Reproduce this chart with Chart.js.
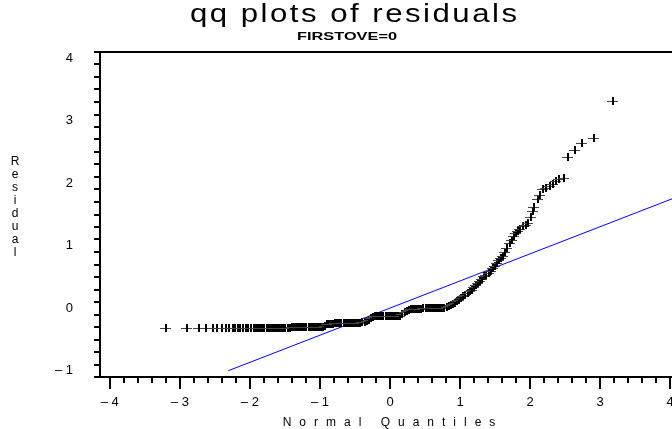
<!DOCTYPE html>
<html>
<head>
<meta charset="utf-8">
<title>qq plots of residuals</title>
<script src="https://cdn.jsdelivr.net/npm/chart.js@4"></script>
<style>
  html, body { margin: 0; padding: 0; background: #fff; overflow: hidden; }
  #wrap { width: 672px; height: 429px; overflow: hidden; }
</style>
</head>
<body>
<div id="wrap"><canvas id="qqChart" width="700" height="429"></canvas></div>
<script>
// Normal quantiles (x) and residuals (y)
const quantiles = [
  -3.20, -2.91, -2.73, -2.64, -2.54, -2.47, -2.41, -2.35, -2.30, -2.25, -2.22, -2.18, -2.15, -2.11,
  -2.07, -2.03, -1.99, -1.955, -1.92, -1.89,
  -1.86, -1.83, -1.80, -1.77, -1.74, -1.71, -1.68, -1.65, -1.62, -1.59, -1.56, -1.53, -1.50, -1.47,
  -1.44,
  -1.41, -1.38, -1.35, -1.32, -1.29, -1.26, -1.23, -1.20, -1.17, -1.14, -1.11, -1.08, -1.05, -1.02,
  -0.99, -0.96,
  -0.94, -0.91, -0.88, -0.85, -0.82, -0.79, -0.76, -0.73, -0.70, -0.67, -0.64, -0.61, -0.58, -0.55,
  -0.52, -0.49, -0.46, -0.43, -0.40, -0.37, -0.34,
  -0.31, -0.28, -0.25, -0.22, -0.19, -0.16, -0.13, -0.10, -0.07, -0.04, -0.01, 0.02, 0.05, 0.08,
  0.11, 0.14,
  0.17, 0.20, 0.23, 0.26, 0.29, 0.32, 0.35, 0.38, 0.41, 0.44, 0.47, 0.50, 0.53, 0.56, 0.59, 0.62,
  0.65, 0.68, 0.71,
  0.74, 0.77, 0.80, 0.83, 0.86, 0.89, 0.92, 0.95, 0.98, 1.01, 1.04, 1.07, 1.10, 1.13, 1.16, 1.19,
  1.22, 1.25, 1.28, 1.31, 1.34, 1.37, 1.40, 1.43, 1.46, 1.49, 1.52, 1.55, 1.58, 1.61, 1.64, 1.67,
  1.70, 1.73, 1.76, 1.79, 1.82, 1.85, 1.89, 1.93, 1.96, 2.00, 2.03, 2.05, 2.10, 2.14, 2.17, 2.22,
  2.27, 2.32, 2.36, 2.41, 2.47, 2.54, 2.63, 2.74, 2.90, 3.18
];
const residuals = [
  -0.32, -0.32, -0.32, -0.32, -0.32, -0.32, -0.32, -0.32, -0.32, -0.32, -0.32, -0.32, -0.32, -0.32,
  -0.32, -0.32, -0.32, -0.32, -0.32, -0.32,
  -0.31, -0.31, -0.31, -0.31, -0.31, -0.31, -0.31, -0.31, -0.31, -0.31, -0.31, -0.31, -0.31, -0.31,
  -0.31,
  -0.30, -0.30, -0.30, -0.30, -0.30, -0.30, -0.30, -0.30, -0.30, -0.30, -0.30, -0.30, -0.30, -0.30,
  -0.30, -0.30,
  -0.28, -0.25, -0.25, -0.25, -0.25, -0.24, -0.24, -0.24, -0.24, -0.24, -0.24, -0.24, -0.24, -0.24,
  -0.23, -0.23, -0.23, -0.23, -0.22, -0.22, -0.21,
  -0.19, -0.16, -0.14, -0.13, -0.13, -0.13, -0.13, -0.13, -0.13, -0.12, -0.12, -0.12, -0.12, -0.12,
  -0.12, -0.12,
  -0.09, -0.06, -0.04, -0.02, -0.01, -0.01, -0.01, -0.01, -0.01, -0.01, 0.00, 0.00, 0.00, 0.00,
  0.00, 0.00, 0.00, 0.00, 0.00,
  0.005, 0.01, 0.02, 0.03, 0.05, 0.07, 0.09, 0.11, 0.14, 0.16, 0.19, 0.21, 0.24, 0.27, 0.30, 0.34,
  0.37, 0.40, 0.44, 0.47, 0.51, 0.54, 0.57, 0.60, 0.64, 0.68, 0.73, 0.77, 0.80, 0.84, 0.90, 0.97,
  1.04, 1.10, 1.16, 1.20, 1.24, 1.27, 1.32, 1.34, 1.36, 1.46, 1.55, 1.62, 1.75, 1.82, 1.91, 1.93,
  1.96, 1.99, 2.03, 2.07, 2.09, 2.42, 2.54, 2.64, 2.73, 3.31
];

// Reference line (blue)
const fitQuantiles = [-2.31, 4.14];
const fitResiduals = [-1.00, 1.80];

// Labelled ticks
const xTickValues = [-4, -3, -2, -1, 0, 1, 2, 3, 4];
const yTickValues = [-1, 0, 1, 2, 3, 4];

const titleText = 'qq plots of residuals';
const subtitleText = 'FIRSTOVE=0';
const xTitle = 'Normal Quantiles';
const yTitle = 'Residual';

const FONT = '"Liberation Sans", Arial, sans-serif';

// "+" marker, wider than tall
function makeCross() {
    const c = document.createElement('canvas');
    c.width = 11;
    c.height = 8;
    const g = c.getContext('2d');
    g.fillStyle = '#444';
    g.fillRect(0, 4, 11, 1);
    g.fillStyle = '#000';
    g.fillRect(5, 0, 2, 8);
    return c;
}

function isMajor(v, list) {
    return list.some(t => Math.abs(t - v) < 1e-6);
}

function tickLabel(v) {
    const r = Math.round(v);
    if (r < 0) return '\u2013 ' + Math.abs(r);
    return String(r);
}

// Frame, tick marks and y tick labels
const framePlugin = {
    id: 'frame',
    beforeDatasetsDraw(chart) {
        const { ctx, chartArea: a, scales } = chart;
        ctx.save();
        ctx.strokeStyle = '#000';
        ctx.lineWidth = 2;
        ctx.strokeRect(a.left, a.top, a.right - a.left, a.bottom - a.top);
        ctx.beginPath();
        scales.y.ticks.forEach(t => {
            const y = Math.round(scales.y.getPixelForValue(t.value));
            const len = isMajor(t.value, yTickValues) ? 13 : 6;
            ctx.moveTo(a.left - len, y);
            ctx.lineTo(a.left, y);
        });
        scales.x.ticks.forEach(t => {
            const x = Math.round(scales.x.getPixelForValue(t.value));
            const len = isMajor(t.value, xTickValues) ? 11 : 5;
            ctx.moveTo(x, a.bottom + 1);
            ctx.lineTo(x, a.bottom + 1 + len);
        });
        ctx.stroke();

        ctx.fillStyle = '#000';
        ctx.font = '13px ' + FONT;
        ctx.textAlign = 'right';
        ctx.textBaseline = 'middle';
        yTickValues.forEach(v => {
            ctx.fillText(tickLabel(v), 73, scales.y.getPixelForValue(v));
        });
        ctx.restore();
        // crisp markers
        ctx.imageSmoothingEnabled = false;
    }
};

// Titles
const textPlugin = {
    id: 'texts',
    afterDraw(chart) {
        const ctx = chart.ctx;
        ctx.save();
        ctx.fillStyle = '#000';

        // main title: wide glyphs, a little spacing
        ctx.font = '25px ' + FONT;
        ctx.textBaseline = 'alphabetic';
        ctx.textAlign = 'left';
        ctx.letterSpacing = '2px';
        let w = ctx.measureText(titleText).width - 2;
        ctx.save();
        ctx.translate(190, 22);
        ctx.scale(327 / w, 1);
        ctx.fillText(titleText, 0, 0);
        ctx.restore();
        ctx.letterSpacing = '0px';

        // subtitle
        ctx.font = 'bold 11px ' + FONT;
        w = ctx.measureText(subtitleText).width;
        ctx.save();
        ctx.translate(297, 40);
        ctx.scale(100 / w, 1);
        ctx.fillText(subtitleText, 0, 0);
        ctx.restore();

        // y axis title, letters stacked
        ctx.font = '12px ' + FONT;
        ctx.textAlign = 'center';
        ctx.textBaseline = 'middle';
        yTitle.split('').forEach((ch, i) => {
            ctx.fillText(ch, 15, 162 + i * 13);
        });

        // x axis title, spaced out
        ctx.textBaseline = 'alphabetic';
        ctx.letterSpacing = '8px';
        ctx.textAlign = 'left';
        w = ctx.measureText(xTitle).width;
        ctx.fillText(xTitle, 389 - (w - 8) / 2, 426);
        ctx.letterSpacing = '0px';
        ctx.restore();
    }
};

function initializeChart() {
    const ctx = document.getElementById('qqChart').getContext('2d');
    const cross = makeCross();

    new Chart(ctx, {
        type: 'scatter',
        data: {
            datasets: [{
                label: 'Residual',
                data: quantiles.map((q, i) => ({ x: q, y: residuals[i] })),
                pointStyle: cross,
                pointRadius: 5,
                borderColor: '#000',
                backgroundColor: '#000'
            }, {
                type: 'line',
                label: 'Fit',
                data: fitQuantiles.map((q, i) => ({ x: q, y: fitResiduals[i] })),
                borderColor: '#0000ff',
                borderWidth: 1,
                pointRadius: 0,
                fill: false
            }]
        },
        options: {
            responsive: false,
            animation: false,
            events: [],
            layout: { padding: { top: 52, right: 20, left: 0, bottom: 0 } },
            plugins: {
                legend: { display: false },
                tooltip: { enabled: false }
            },
            scales: {
                x: {
                    type: 'linear',
                    min: -4.14,
                    max: 4.14,
                    afterFit: s => { s.height = 52; },
                    grid: { display: false, drawTicks: false },
                    border: { display: false },
                    ticks: {
                        stepSize: 0.2,
                        autoSkip: false,
                        maxTicksLimit: 100,
                        includeBounds: false,
                        maxRotation: 0,
                        padding: 18,
                        color: '#000',
                        font: { family: FONT, size: 13 },
                        callback: v => isMajor(v, xTickValues) ? tickLabel(v) : ''
                    }
                },
                y: {
                    type: 'linear',
                    min: -1.1,
                    max: 4.1,
                    afterFit: s => { s.width = 100; },
                    grid: { display: false, drawTicks: false },
                    border: { display: false },
                    ticks: {
                        display: false,
                        stepSize: 0.2,
                        autoSkip: false,
                        maxTicksLimit: 100,
                        includeBounds: false
                    }
                }
            }
        },
        plugins: [framePlugin, textPlugin]
    });
}

document.addEventListener('DOMContentLoaded', initializeChart);
</script>
</body>
</html>
